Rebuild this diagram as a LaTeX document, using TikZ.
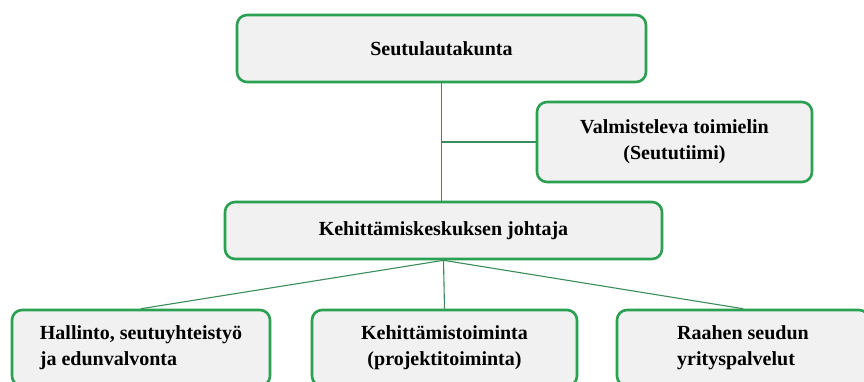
\documentclass[tikz,border=0pt]{standalone}
\usepackage{fontspec}
\setmainfont{Liberation Serif}
\usepackage{tikz}
\definecolor{laatikkovihrea}{RGB}{42,160,82}
\definecolor{viivavihrea}{RGB}{58,140,92}
\definecolor{laatikkoharmaa}{RGB}{241,241,241}

\begin{document}
\begin{tikzpicture}[x=1pt,y=-1pt,
		laatikko/.style={draw=laatikkovihrea,line width=2.6pt,fill=laatikkoharmaa,rounded corners=10pt,
			font=\fontsize{20}{26}\selectfont\bfseries,inner sep=0pt},
		viiva/.style={draw=viivavihrea,line width=1.1pt}]
		\clip (0,0) rectangle (864,381);
		\fill[white] (0,0) rectangle (864,381);

		\node[laatikko,minimum width=409pt,minimum height=67pt] (seutu) at (441.5,48.5) {Seutulautakunta};
		\node[laatikko,minimum width=275pt,minimum height=80pt,align=center] (valmis) at (674.5,142) {Valmisteleva toimielin\\(Seututiimi)};
		\node[laatikko,minimum width=437pt,minimum height=57pt] (johtaja) at (443.5,230.5) {Kehittämiskeskuksen johtaja};

		\node[laatikko,minimum width=258pt,minimum height=76pt,align=left] (hallinto) at (141,348) {Hallinto, seutuyhteistyö\\ja edunvalvonta};
		\node[laatikko,minimum width=265pt,minimum height=76pt,align=center] (kehitys) at (444.5,348) {Kehittämistoiminta\\(projektitoiminta)};
		\node[laatikko,minimum width=252pt,minimum height=76pt,align=left] (raahe) at (743,348) {Raahen seudun\\yrityspalvelut};

		\coordinate (haara) at (seutu.south |- valmis.west);
		\draw[viiva] (seutu.south) -- (seutu.south |- johtaja.north);
		\draw[viiva] (haara) -- (valmis.west);

		\draw[viiva] (johtaja.south) -- (hallinto.north);
		\draw[viiva] (johtaja.south) -- (kehitys.north);
		\draw[viiva] (johtaja.south) -- (raahe.north);
	\end{tikzpicture}
\end{document}
